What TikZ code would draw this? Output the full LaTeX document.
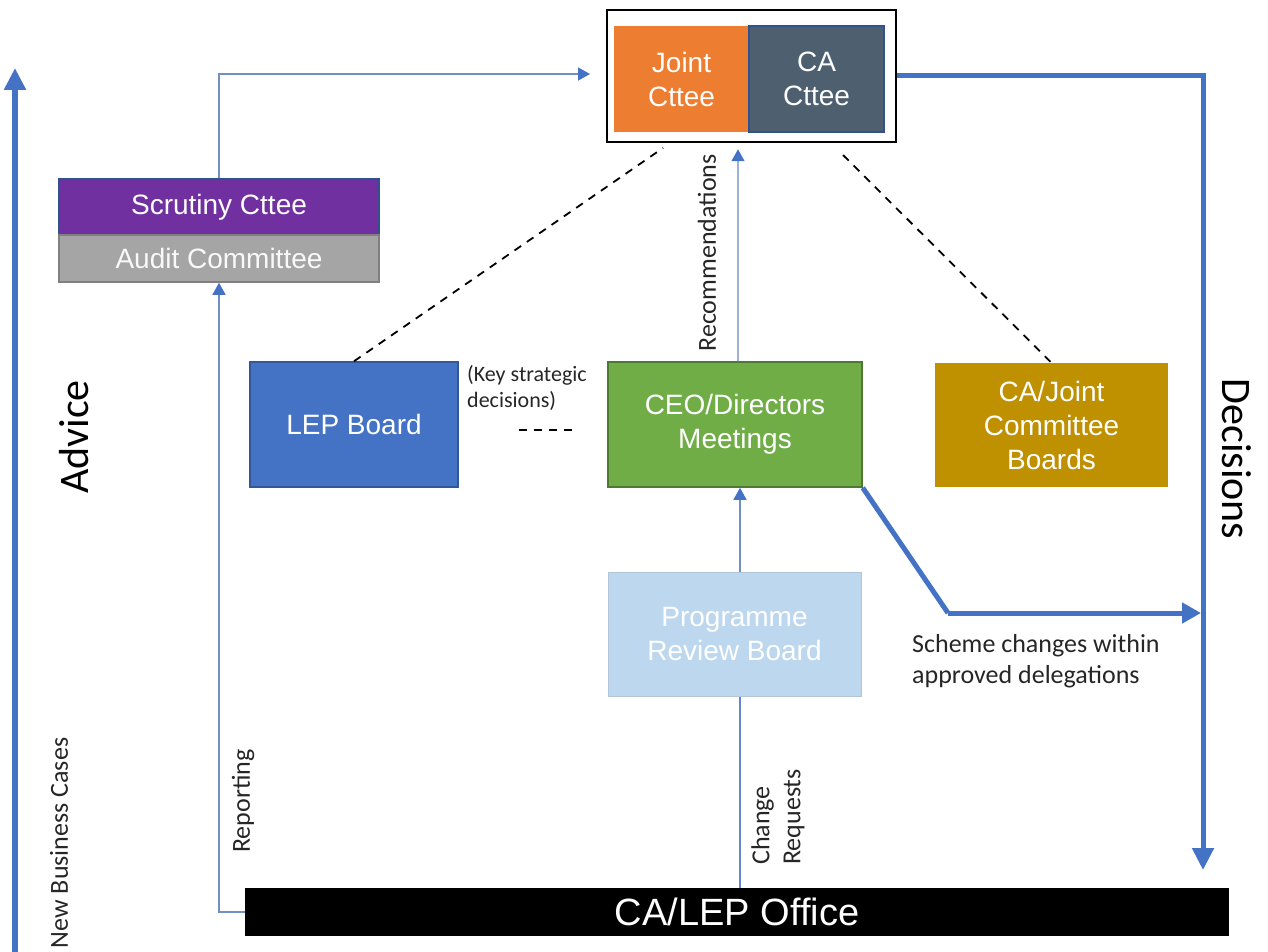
\documentclass[tikz,border=0pt]{standalone}
\usepackage{fontspec}
\setmainfont{Liberation Sans}
\newfontfamily\lblfont{Carlito}
\usetikzlibrary{arrows.meta}

\definecolor{flowblue}{HTML}{4472C4}
\definecolor{linkblue}{HTML}{7090C4}
\definecolor{jointorange}{HTML}{ED7D31}
\definecolor{caslate}{HTML}{4E6070}
\definecolor{edgeblue}{HTML}{2F528F}
\definecolor{scrpurple}{HTML}{7030A0}
\definecolor{audgray}{HTML}{A5A5A5}
\definecolor{ceogreen}{HTML}{70AD47}
\definecolor{boardgold}{HTML}{BF9000}
\definecolor{prbblue}{HTML}{BDD7EE}
\definecolor{labelgray}{HTML}{262626}

\begin{document}
\begin{tikzpicture}[x=1pt,y=-1pt,
  box/.style={rectangle, inner sep=0pt, align=center, text=white,
    font=\fontsize{28}{34}\selectfont},
  lbl/.style={inner sep=0pt, text=labelgray, font=\lblfont\fontsize{26}{31}\selectfont},
  biglbl/.style={inner sep=0pt, text=black, font=\lblfont\fontsize{42}{50}\selectfont},
  bigflow/.style={draw=flowblue, line width=6pt, -{Triangle[length=22pt,width=21pt]}},
  thinflow/.style={draw=linkblue, line width=1.4pt, -{Triangle[length=12pt,width=13pt,color=flowblue]}},
  dashlink/.style={draw=black, line width=1.8pt, dash pattern=on 8pt off 7pt}
]
\useasboundingbox (0,0) rectangle (1268,952);

% committee pair in a framed box
\node[rectangle, draw=black, line width=2.5pt, fill=white,
      minimum width=289pt, minimum height=132pt] (cmt) at (751.5,76) {};
\node[box, fill=jointorange, minimum width=135pt, minimum height=106pt] (joint) at (681.5,79) {Joint\\Cttee};
\node[box, fill=caslate, draw=edgeblue, line width=1.5pt, minimum width=135pt, minimum height=106pt] (ca) at (816.5,79) {CA\\Cttee};

% scrutiny and audit
\node[box, fill=scrpurple, draw=edgeblue, line width=1.5pt, minimum width=320pt, minimum height=56pt] (scr) at (219,207) {Scrutiny Cttee};
\node[box, fill=audgray, draw=gray, line width=1.5pt, text=white!95!gray, minimum width=320pt, minimum height=47pt] (aud) at (219,258.5) {Audit Committee};

% middle row
\node[box, fill=flowblue, draw=edgeblue!80!flowblue, line width=1.5pt, minimum width=208pt, minimum height=125pt] (lep) at (354,424.5) {LEP Board};
\node[box, fill=ceogreen, draw=ceogreen!70!black, line width=1.5pt, minimum width=254pt, minimum height=125pt] (ceo) at (735,424.5) {CEO/Directors\\Meetings};
\node[box, fill=boardgold, minimum width=233pt, minimum height=124pt] (cjb) at (1051.5,425) {CA/Joint\\Committee\\Boards};

% programme review
\node[box, fill=prbblue, draw=prbblue!80!gray, line width=1pt, minimum width=253pt, minimum height=124pt] (prb) at (734.5,634) {Programme\\Review Board};

% office bar
\node[box, fill=black, minimum width=984pt, minimum height=48pt,
      font=\fontsize{38}{42}\selectfont] (off) at (737,912) {CA/LEP Office};

% free ends of connectors
\coordinate (advbot) at (15,952);
\coordinate (advtop) at (15,68);
\coordinate (decend) at (1203,870);
\coordinate (schbend) at (948,613);
\coordinate (schend) at (1201,613);
\coordinate (cmtin) at (590,74);
\coordinate (keyl) at (519,430);
\coordinate (keyr) at (578,430);
\coordinate (dashl) at (663,148);
\coordinate (dashr) at (843,155);

% main flows
\draw[bigflow] (advbot) -- (advtop);
\draw[bigflow, line width=5pt] (cmt.east) -| (decend);
\draw[draw=flowblue, line width=5pt] (ceo.south east) -- (schbend);
\draw[bigflow, line width=5pt, -{Triangle[length=19pt,width=20pt]}] (schbend) -- (schend);

% thin links
\draw[thinflow] (scr.north) |- (cmtin);
\draw[thinflow] (off.west) -| (aud.south);
\draw[thinflow, draw=linkblue!70!white] ([xshift=3pt]ceo.north) -- ([xshift=3pt,yshift=-6pt]ceo.north |- cmt.south);
\draw[thinflow] ([xshift=5.5pt]prb.north) -- ([xshift=5.5pt]prb.north |- ceo.south);
\draw[draw=flowblue!85!white, line width=1.4pt] ([xshift=5.5pt]off.north -| prb.south) -- ([xshift=5.5pt]prb.south);

% dashed associations
\draw[dashlink] (lep.north) -- (dashl);
\draw[dashlink] (dashr) -- (cjb.north);
\draw[dashlink] (keyl) -- (keyr);

% labels
\node[lbl, anchor=north west, align=left, font=\lblfont\fontsize{22}{26}\selectfont] (keylbl) at (467,365) {(Key strategic\\decisions)};
\node[lbl, anchor=north west, align=left] (schlbl) at (912,634) {Scheme changes within\\approved delegations};
\node[lbl, rotate=90] (reclbl) at (707,253) {Recommendations};
\node[lbl, rotate=90, align=left] (chglbl) at (778,817) {Change\\Requests};
\node[lbl, rotate=90] (replbl) at (243,801) {Reporting};
\node[lbl, rotate=90] (nbclbl) at (59,843) {New Business Cases};
\node[biglbl, rotate=90] (advlbl) at (74,437) {Advice};
\node[biglbl, rotate=-90] (declbl) at (1237,459) {Decisions};
\end{tikzpicture}
\end{document}
